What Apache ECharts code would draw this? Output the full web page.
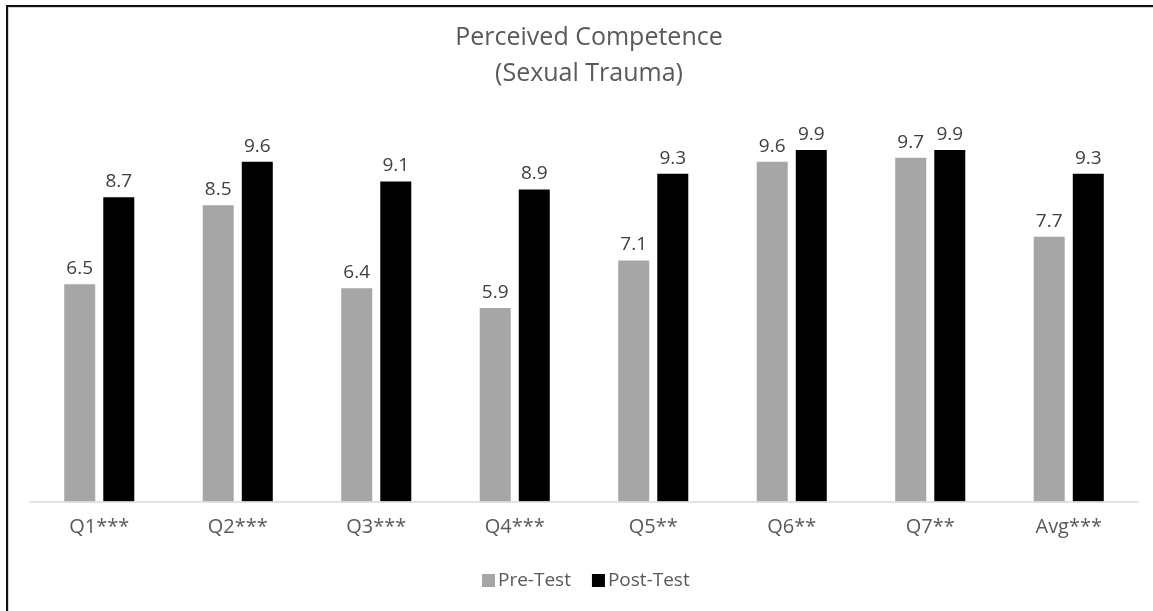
<!DOCTYPE html>
<html>
<head>
<meta charset="utf-8">
<title>Perceived Competence (Sexual Trauma)</title>
<script src="https://cdn.jsdelivr.net/npm/echarts@6/dist/echarts.min.js"></script>
<style>
  html, body { margin: 0; padding: 0; background: #fff; overflow: hidden; }
  #chart { position: absolute; left: 0; top: 0; width: 1153px; height: 611px; }
  #frame {
    position: absolute; left: 6px; top: 5px; width: 2000px; height: 2000px;
    border-top: 2px solid #111; border-left: 2px solid #111;
    box-shadow: inset 1px 1px 0 #d4d4d4;
    pointer-events: none;
  }
</style>
</head>
<body>
<div id="chart"></div>
<div id="frame"></div>
<script>
// Survey items with significance markers
const categories = ['Q1***', 'Q2***', 'Q3***', 'Q4***', 'Q5**', 'Q6**', 'Q7**', 'Avg***'];
// Mean scores before and after training
const preTest  = [6.5, 8.5, 6.4, 5.9, 7.1, 9.6, 9.7, 7.7];
const postTest = [8.7, 9.6, 9.1, 8.9, 9.3, 9.9, 9.9, 9.3];
const seriesNames = ['Pre-Test', 'Post-Test'];

const FONT = '"Open Sans", "Noto Sans", sans-serif';

const chart = echarts.init(document.getElementById('chart'), null, { renderer: 'canvas' });

const labelStyle = {
  show: true,
  position: 'top',
  distance: 6,
  color: '#404040',
  fontFamily: FONT,
  fontSize: 19,
  formatter: p => p.value.toFixed(1)
};

chart.setOption({
  backgroundColor: '#ffffff',
  animation: false,
  title: {
    text: 'Perceived Competence\n(Sexual Trauma)',
    left: 584,
    top: 15,
    textAlign: 'center',
    textStyle: {
      color: '#595959',
      fontFamily: FONT,
      fontSize: 25,
      fontWeight: 'normal',
      lineHeight: 36
    }
  },
  legend: {
    data: seriesNames,
    left: 477,
    top: 566,
    icon: 'rect',
    itemWidth: 13,
    itemHeight: 13,
    itemGap: 21,
    textStyle: { color: '#595959', fontFamily: FONT, fontSize: 19, padding: [0, 0, 0, -2] }
  },
  grid: { left: 30, right: 15, top: 146, bottom: 109.5, containLabel: false },
  xAxis: {
    type: 'category',
    data: categories,
    axisLine: { show: true, lineStyle: { color: '#d9d9d9', width: 1.5 } },
    axisTick: { show: false },
    axisLabel: { color: '#595959', fontFamily: FONT, fontSize: 20, margin: 16 },
    z: 5
  },
  yAxis: {
    type: 'value',
    min: 1,
    max: 10,
    show: false,
    splitLine: { show: false }
  },
  series: [
    {
      name: seriesNames[0],
      type: 'bar',
      data: preTest,
      barWidth: 31,
      barGap: '26%',
      itemStyle: { color: '#a6a6a6' },
      label: labelStyle
    },
    {
      name: seriesNames[1],
      type: 'bar',
      data: postTest,
      barWidth: 31,
      barGap: '26%',
      itemStyle: { color: '#000000' },
      label: labelStyle
    }
  ]
});
</script>
</body>
</html>
